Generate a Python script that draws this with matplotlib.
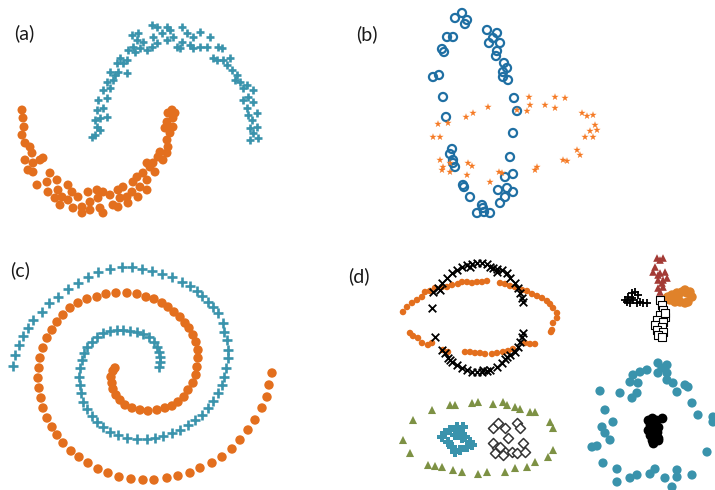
import matplotlib.pyplot as plt
import numpy as np

ORANGE = "#E36F1E"
TEAL = "#3A93AC"
BLUE = "#1F6FA3"
STAR = "#F57A25"
RED = "#A33A35"
GREEN = "#7D9144"

# all coordinates are pixel positions

# (a) two moons
a_dots_x = [22, 23, 24, 22, 25, 30, 32, 25, 33, 43, 33, 37, 50, 47, 57, 48, 58, 55, 62, 60, 68, 72, 68, 73, 78, 82, 82, 88, 90, 90,
            97, 98, 100, 103, 103, 110, 113, 118, 118, 123, 120, 127, 128, 132, 133, 137, 140, 138, 143, 147, 147, 150, 155, 153,
            158, 163, 160, 168, 167, 167, 170, 165, 173, 167, 173, 172, 168, 175, 40, 28, 147]
a_dots_y = [110, 118, 127, 135, 143, 147, 153, 160, 163, 158, 172, 185, 173, 182, 180, 192, 190, 198, 197, 205, 185, 192, 200, 208,
            197, 207, 213, 192, 202, 210, 190, 198, 208, 213, 192, 195, 205, 207, 190, 187, 198, 197, 203, 192, 182, 177, 187, 197,
            173, 180, 190, 167, 172, 163, 157, 160, 152, 147, 153, 140, 133, 128, 127, 122, 118, 110, 113, 113, 160, 170, 163]
a_plus_x = [95, 97, 100, 95, 100, 97, 103, 98, 107, 103, 110, 107, 113, 115, 110, 118, 117, 123, 120, 127, 128, 135, 133, 140, 137,
            143, 147, 152, 153, 157, 162, 167, 170, 173, 177, 182, 182, 187, 190, 193, 200, 200, 207, 210, 213, 218, 222, 223, 227,
            230, 232, 237, 235, 240, 243, 247, 248, 253, 243, 253, 247, 248, 252, 250, 257, 253, 258, 250, 157, 152, 92, 167, 180,
            193, 132, 138, 217, 257, 127, 107]
a_plus_y = [135, 127, 130, 120, 118, 110, 108, 100, 98, 90, 88, 82, 80, 75, 72, 72, 63, 63, 58, 60, 50, 52, 47, 48, 40, 42, 50, 47,
            37, 43, 33, 40, 30, 37, 47, 42, 27, 33, 45, 37, 32, 47, 47, 37, 58, 47, 48, 60, 65, 58, 70, 75, 80, 82, 88, 85, 97, 90,
            100, 102, 108, 115, 120, 128, 127, 133, 138, 140, 27, 25, 137, 27, 48, 48, 35, 33, 60, 113, 73, 117]

# (b) circles and stars
b_circ_x = [462, 455, 467, 465, 447, 453, 442, 444, 433, 439, 443, 446, 487, 497, 493, 489, 500, 497, 496, 504, 507, 503, 503, 508,
            514, 517, 513, 510, 452, 450, 453, 453, 455, 463, 464, 470, 482, 483, 477, 484, 490, 500, 505, 498, 507, 513, 513, 505]
b_circ_y = [13, 18, 20, 24, 37, 37, 49, 52, 77, 75, 97, 117, 30, 33, 38, 43, 43, 51, 56, 63, 68, 72, 77, 80, 98, 111, 133, 157, 149,
            154, 160, 163, 167, 185, 187, 197, 205, 208, 213, 212, 213, 203, 197, 190, 188, 192, 174, 177]
b_star_x = [529, 530, 527, 555, 565, 545, 555, 582, 587, 593, 595, 590, 597, 585, 593, 577, 580, 563, 567, 537, 535, 517, 488, 473,
            466, 438, 448, 433, 440, 440, 443, 442, 450, 450, 468, 472, 467, 490, 499, 502]
b_star_y = [97, 105, 111, 97, 98, 105, 108, 113, 116, 115, 125, 131, 130, 137, 137, 150, 155, 160, 161, 167, 170, 110, 107, 113, 117,
            124, 123, 137, 137, 160, 167, 170, 163, 172, 163, 166, 175, 182, 172, 173]

# (c) two spirals
c_plus_x = [13, 15, 19, 23, 28, 33, 42, 49, 58, 68, 78, 88, 98, 110, 122, 132, 142, 152, 162, 172, 182, 190, 197, 202, 208, 213, 218,
            223, 224, 227, 228, 228, 226, 224, 222, 218, 213, 208, 202, 195, 188, 180, 172, 163, 155, 147, 137, 127, 118, 110, 103,
            97, 92, 87, 83, 81, 80, 79, 80, 82, 84, 87, 92, 97, 103, 110, 117, 123, 130, 137, 143, 149, 154, 157, 159, 160, 160, 159]
c_plus_y = [366, 355, 345, 336, 328, 320, 312, 303, 297, 289, 283, 277, 272, 269, 267, 267, 269, 271, 274, 277, 282, 286, 291, 296,
            302, 307, 313, 323, 332, 340, 350, 358, 368, 377, 385, 393, 401, 408, 415, 420, 425, 430, 433, 436, 438, 439, 439, 438,
            435, 432, 427, 422, 416, 409, 402, 393, 385, 377, 368, 360, 353, 347, 342, 337, 333, 331, 330, 330, 331, 332, 334, 337,
            342, 347, 352, 357, 362, 367]
c_dots_x = [272, 269, 267, 262, 255, 248, 240, 232, 222, 212, 200, 190, 178, 167, 154, 143, 131, 119, 108, 98, 88, 79, 71, 63, 57, 52,
            47, 43, 41, 39, 38, 39, 40, 43, 47, 52, 57, 63, 70, 78, 87, 97, 106, 116, 127, 137, 146, 154, 162, 168, 174, 180, 185, 189,
            193, 196, 198, 198, 197, 196, 193, 188, 184, 178, 172, 165, 157, 148, 140, 132, 125, 120, 116, 113, 112, 111, 113, 115]
c_dots_y = [373, 385, 397, 408, 420, 430, 440, 449, 457, 463, 468, 473, 476, 478, 480, 480, 479, 477, 473, 469, 463, 457, 451, 443,
            435, 427, 418, 408, 398, 388, 378, 368, 358, 348, 338, 330, 322, 315, 308, 303, 299, 297, 294, 293, 293, 294, 297, 299,
            303, 307, 312, 317, 323, 328, 335, 342, 350, 358, 367, 375, 383, 390, 397, 402, 406, 408, 410, 411, 410, 408, 405, 400,
            395, 389, 383, 377, 371, 368]

# (d) ellipses
d_band_x = [403, 407, 412, 417, 422, 425, 430, 435, 442, 447, 452, 458, 462, 467, 472, 477, 482, 487, 500, 505, 510, 515, 522, 527,
            532, 537, 542, 547, 550, 553, 557, 557, 553, 552, 551,
            410, 413, 418, 422, 428, 432, 443, 448, 465, 470, 475, 480, 485, 492, 497, 503, 508, 513, 525, 530, 535]
d_band_y = [312, 307, 303, 300, 297, 292, 291, 288, 287, 287, 285, 284, 282, 282, 283, 282, 282, 281, 283, 284, 286, 287, 290, 291,
            294, 296, 298, 301, 304, 308, 313, 318, 323, 330, 332,
            333, 336, 338, 343, 345, 343, 350, 352, 352, 352, 353, 353, 354, 354, 353, 352, 351, 349, 343, 344, 344]
d_x_x = [433, 438, 442, 447, 452, 457, 462, 467, 472, 477, 482, 487, 490, 493, 497, 502, 507, 510, 515, 518, 520, 522, 523, 440, 470,
         497, 432, 435, 442, 445, 448, 452, 457, 462, 467, 472, 477, 482, 487, 490, 497, 502, 505, 510, 515, 518, 520, 522, 523, 450,
         483, 507]
d_x_y = [292, 288, 283, 278, 273, 270, 267, 265, 264, 263, 263, 264, 267, 268, 269, 270, 273, 278, 283, 288, 293, 298, 302, 290, 267,
         272, 308, 337, 350, 353, 358, 362, 365, 368, 370, 372, 372, 372, 371, 370, 367, 363, 359, 355, 352, 347, 342, 337, 333, 360,
         370, 357]

# (d) small blobs
d_tri_x = [657, 660, 663, 655, 653, 660, 665, 658, 663, 667, 662, 658, 663, 660, 658]
d_tri_y = [258, 260, 258, 267, 272, 273, 272, 280, 280, 278, 283, 288, 287, 292, 275]
d_blob_x = [668, 672, 677, 682, 685, 690, 692, 688, 685, 680, 675, 670, 667, 687, 678]
d_blob_y = [297, 295, 293, 292, 290, 292, 297, 302, 303, 302, 302, 300, 298, 293, 297]
d_hook_x = [625, 628, 632, 635, 638, 640, 643, 647, 627, 630, 633, 637, 632]
d_hook_y = [300, 297, 293, 292, 295, 302, 303, 303, 302, 303, 300, 303, 298]
d_sq_x = [660, 662, 663, 660, 665, 657, 663, 655, 662, 657, 663, 658, 662, 665]
d_sq_y = [300, 305, 310, 315, 317, 320, 322, 325, 327, 330, 332, 335, 337, 313]

# (d) ring with two inner clusters
d_ring_x = [403, 410, 413, 432, 450, 455, 472, 478, 493, 503, 507, 515, 520, 530, 535, 550, 553, 553, 548, 535, 527, 515, 505, 487,
            478, 462, 453, 442, 435, 428]
d_ring_y = [440, 453, 420, 410, 405, 405, 403, 402, 404, 402, 405, 407, 409, 412, 412, 422, 428, 450, 457, 462, 467, 468, 472, 472,
            474, 472, 470, 467, 466, 465]
d_cross_x = [442, 445, 448, 452, 450, 457, 460, 463, 465, 470, 467, 460, 455, 462, 472, 455]
d_cross_y = [437, 433, 442, 447, 430, 427, 432, 427, 437, 442, 447, 450, 452, 438, 445, 435]
d_dia_x = [493, 498, 505, 517, 520, 508, 493, 497, 505, 500, 512, 517, 523, 525, 495, 503]
d_dia_y = [428, 423, 428, 423, 428, 438, 443, 448, 452, 447, 452, 453, 443, 452, 453, 455]

# (d) circle with a dense core
d_circ_x = [658, 667, 662, 658, 667, 647, 640, 633, 630, 638, 637, 632, 620, 600, 605, 613, 602, 605, 610, 592, 597, 603, 617, 617,
            630, 637, 650, 655, 665, 672, 677, 677, 692, 707, 698, 692, 688, 685, 677, 673, 667, 713, 713]
d_circ_y = [363, 365, 368, 373, 373, 370, 372, 375, 382, 383, 393, 398, 393, 391, 410, 422, 427, 433, 440, 447, 446, 463, 469, 482,
            478, 475, 474, 469, 478, 487, 470, 477, 475, 452, 415, 403, 387, 385, 392, 383, 380, 417, 422]
d_core_x = [648, 652, 656, 650, 655, 658, 648, 653, 657, 650, 655, 652, 658, 662, 658, 653]
d_core_y = [420, 418, 420, 425, 425, 427, 430, 430, 432, 435, 437, 440, 440, 418, 438, 443]

labels = ["(a)", "(b)", "(c)", "(d)"]
label_x = [14, 356, 10, 348]
label_y = [33, 34, 270, 276]

fig = plt.figure(figsize=(7.15, 4.9), dpi=100)
ax = fig.add_axes([0, 0, 1, 1])
ax.set_xlim(0, 715)
ax.set_ylim(490, 0)
ax.axis("off")

ax.scatter(a_dots_x, a_dots_y, s=42, color=ORANGE, edgecolors="none")
ax.scatter(a_plus_x, a_plus_y, s=40, marker="+", color=TEAL, linewidths=1.9)

ax.scatter(b_circ_x, b_circ_y, s=34, marker="o", facecolors="none", edgecolors=BLUE, linewidths=1.6)
ax.scatter(b_star_x, b_star_y, s=30, marker="*", color=STAR, edgecolors="none")

ax.scatter(c_plus_x, c_plus_y, s=44, marker="+", color=TEAL, linewidths=1.9)
ax.scatter(c_dots_x, c_dots_y, s=46, color=ORANGE, edgecolors="none")

ax.scatter(d_band_x, d_band_y, s=22, color=ORANGE, edgecolors="none")
ax.scatter(d_x_x, d_x_y, s=30, marker="x", color="black", linewidths=1.3)

ax.scatter(d_tri_x, d_tri_y, s=30, marker="^", color=RED, edgecolors="none")
ax.scatter(d_blob_x, d_blob_y, s=46, color="#E0822A", edgecolors="none")
ax.scatter(d_hook_x, d_hook_y, s=32, marker="+", color="black", linewidths=1.3)
ax.scatter(d_sq_x, d_sq_y, s=32, marker="s", facecolors="white", edgecolors="black", linewidths=0.8)

ax.scatter(d_ring_x, d_ring_y, s=34, marker="^", color=GREEN, edgecolors="none")
ax.scatter(d_cross_x, d_cross_y, s=48, marker="P", color=TEAL, edgecolors="none")
ax.scatter(d_dia_x, d_dia_y, s=26, marker="D", facecolors="white", edgecolors="#333333", linewidths=1.1)

ax.scatter(d_circ_x, d_circ_y, s=44, color=TEAL, edgecolors="none")
ax.scatter(d_core_x, d_core_y, s=34, marker="o", facecolors="black", edgecolors="black", linewidths=1.2)

for i in range(len(labels)):
    ax.text(label_x[i], label_y[i], labels[i], fontsize=14, family="Lato", va="center", ha="left", color="#1a1a1a")

plt.savefig("out.png", dpi=100)
